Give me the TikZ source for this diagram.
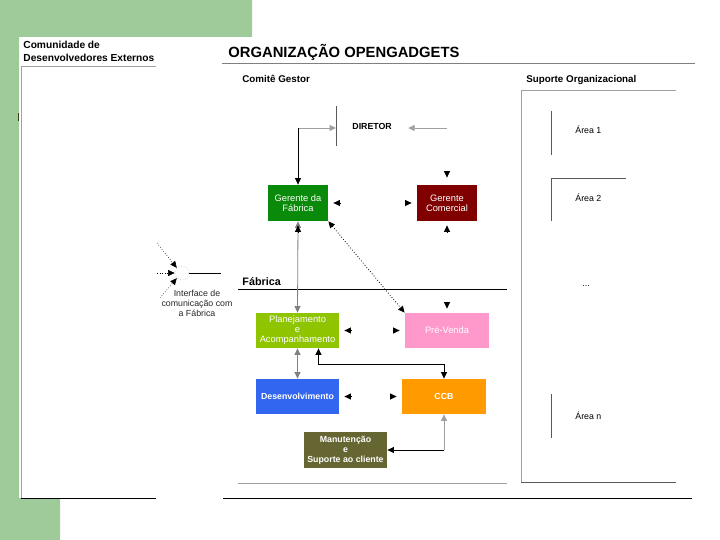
\documentclass[tikz,border=0pt]{standalone}
\usepackage{fontspec}
\setmainfont{Liberation Sans}
\usepackage{tikz}
\usetikzlibrary{arrows.meta,calc}
\usepackage{xcolor}
\definecolor{fundo}{HTML}{9ECB99}
\definecolor{verdefab}{HTML}{0A8A0A}
\definecolor{vinho}{HTML}{800000}
\definecolor{limao}{HTML}{8EC400}
\definecolor{rosa}{HTML}{FF99CC}
\definecolor{azul}{HTML}{3366F0}
\definecolor{laranja}{HTML}{FF9A00}
\definecolor{oliva}{HTML}{666633}
\definecolor{linha}{HTML}{A0A0A0}

\tikzset{
  caixa/.style={fill=#1, text=white, font=\fontsize{9.3}{10}\selectfont, align=center, inner sep=0pt},
  ponta/.style={-{Triangle[length=6.5pt,width=6pt]}},
  duas/.style={{Triangle[length=6.5pt,width=6pt]}-{Triangle[length=6.5pt,width=6pt]}},
  rotulo/.style={anchor=base west, inner sep=0pt, font=\fontsize{8.8}{10}\selectfont},
}

\begin{document}
\begin{tikzpicture}[x=1pt, y=-1pt, line width=0.8pt]
  \useasboundingbox (0,0) rectangle (720,540);
  % fundo verde
  \fill[fundo] (0,0) -- (252,0) -- (252,37) -- (19,37) -- (19,498) -- (60,498) -- (60,540) -- (0,540) -- cycle;
  \draw[oliva!60!black] (18,113) -- (18,121);

  % comunidade externa
  \node[anchor=north west, inner sep=0pt, align=left, font=\bfseries\fontsize{10.2}{12.5}\selectfont] (com) at (23,41) {Comunidade de\\Desenvolvedores Externos};
  \draw[linha] (21,66) -- (156,66);
  \draw[linha] (21,66) -- (21,498);
  \draw[black] (21,498) -- (156,498);

  % titulo e paineis
  \node[anchor=base west, inner sep=0pt, font=\bfseries\fontsize{14.8}{16}\selectfont] (tit) at (228,58) {ORGANIZAÇÃO OPENGADGETS};
  \draw[gray] (222,63) -- (695,63);
  \node[anchor=base west, inner sep=0pt, font=\bfseries\fontsize{9.8}{11}\selectfont] (cg) at (242,83) {Comitê Gestor};
  \node[anchor=base west, inner sep=0pt, font=\bfseries\fontsize{9.8}{11}\selectfont] (so) at (526,83) {Suporte Organizacional};
  \draw[linha] (521,90) -- (676,90);
  \draw[linha] (521,90) -- (521,482);
  \draw[gray!70!black] (521,482) -- (676,482);
  \draw[linha] (238,483) -- (507,483);
  \draw[black] (223,498) -- (692,498);

  % areas
  \draw[gray!70!black] (551,111) -- (551,155);
  \node[rotulo] (a1) at (575,134) {Área 1};
  \draw[gray!70!black] (626,178) -- (551,178) -- (551,221);
  \node[rotulo] (a2) at (575,202) {Área 2};
  \node[rotulo] (a3) at (582,286) {...};
  \draw[gray!70!black] (551,394) -- (551,438);
  \node[rotulo] (an) at (575,419) {Área n};

  % diretor
  \node[anchor=west, minimum height=39pt, inner xsep=16pt, font=\bfseries\fontsize{8.8}{10}\selectfont] (dir) at (336,126) {DIRETOR};
  \draw[gray!70!black] (dir.north west) -- (dir.south west);
  \coordinate (livre) at (447,128);
  \draw[ponta, linha] (livre) -- (livre -| dir.east);

  % comite gestor
  \node[caixa=verdefab, minimum width=60pt, minimum height=36pt] (gf) at (298,203) {Gerente da\\Fábrica};
  \node[caixa=vinho, minimum width=60pt, minimum height=36pt] (gc) at (447,203) {Gerente\\Comercial};
  \coordinate (k1) at (gf.north |- livre);
  \draw[ponta, linha] (k1) -- (k1 -| dir.west);
  \draw[ponta] (k1) -- (gf.north);

  % fabrica
  \node[anchor=base west, inner sep=0pt, font=\bfseries\fontsize{10.8}{12}\selectfont] (fab) at (242,285) {Fábrica};
  \draw[black] (238,289) -- (507,289);
  \node[caixa=limao, minimum width=83pt, minimum height=35pt] (plan) at (297.5,330.5) {Planejamento\\e\\Acompanhamento};
  \node[caixa=rosa, minimum width=84pt, minimum height=35pt] (pv) at (447,330.5) {Pré-Venda};
  \node[caixa=azul, minimum width=83pt, minimum height=35pt, font=\bfseries\fontsize{8.8}{10}\selectfont] (dev) at (297.5,396.5) {Desenvolvimento};
  \node[caixa=laranja, minimum width=84pt, minimum height=35pt, font=\bfseries\fontsize{8.8}{10}\selectfont] (ccb) at (444,396.5) {CCB};
  \node[caixa=oliva, minimum width=83pt, minimum height=36pt, font=\bfseries\fontsize{8.8}{10}\selectfont] (man) at (345.5,450) {Manutenção\\e\\Suporte ao cliente};

  % ligacoes
  \draw[duas, gray] (gf.south) -- (plan.north);
  \draw[duas, dotted] (gf.south east) -- (pv.north west);
  \draw[duas, gray] (plan.south) -- (dev.north);
  \draw[duas] ([xshift=21pt]plan.south) -- ++(0,16) -| (ccb.north);
  \coordinate (k2) at (ccb.south |- man.east);
  \draw[ponta, linha] (k2) -- (ccb.south);
  \draw[ponta] (k2) -- (man.east);

  % pontas soltas
  \draw[ponta] ([xshift=12pt]gf.east) -- ([xshift=5pt]gf.east);
  \draw[ponta] ([yshift=-11pt]gf.south) -- ([yshift=-4pt]gf.south);
  \draw[ponta] ([xshift=-12pt]gc.west) -- ([xshift=-5pt]gc.west);
  \draw[ponta] ([yshift=14pt]gc.north) -- ([yshift=7pt]gc.north);
  \draw[ponta] ([yshift=-11pt]gc.south) -- ([yshift=-4pt]gc.south);
  \draw[ponta] ([xshift=12pt]plan.east) -- ([xshift=5pt]plan.east);
  \draw[ponta] ([xshift=-12pt]pv.west) -- ([xshift=-5pt]pv.west);
  \draw[ponta] ([yshift=11pt]pv.north) -- ([yshift=4pt]pv.north);
  \draw[ponta] ([xshift=12pt]dev.east) -- ([xshift=5pt]dev.east);
  \draw[ponta] ([xshift=-12pt]ccb.west) -- ([xshift=-5pt]ccb.west);

  % interface
  \node[circle, draw=linha!50, dotted, minimum size=14pt, inner sep=0pt] (ifc) at (182,273) {};
  \node[font=\fontsize{8.8}{10}\selectfont, align=center, inner sep=0pt, text=black!85] (ifct) at (197,303) {Interface de\\comunicação com\\a Fábrica};
  \coordinate (e1) at (157,243);
  \coordinate (e2) at (157,273);
  \coordinate (e3) at (160,298);
  \draw[ponta, dotted, line width=0.6pt] (e1) -- (ifc.north west);
  \draw[ponta, dotted, line width=0.6pt] (e2) -- (ifc.west);
  \draw[ponta, dotted, line width=0.6pt] (e3) -- (ifc.south west);
  \draw[black, line width=0.6pt] (ifc.east) -- ++(32,0);
\end{tikzpicture}
\end{document}
